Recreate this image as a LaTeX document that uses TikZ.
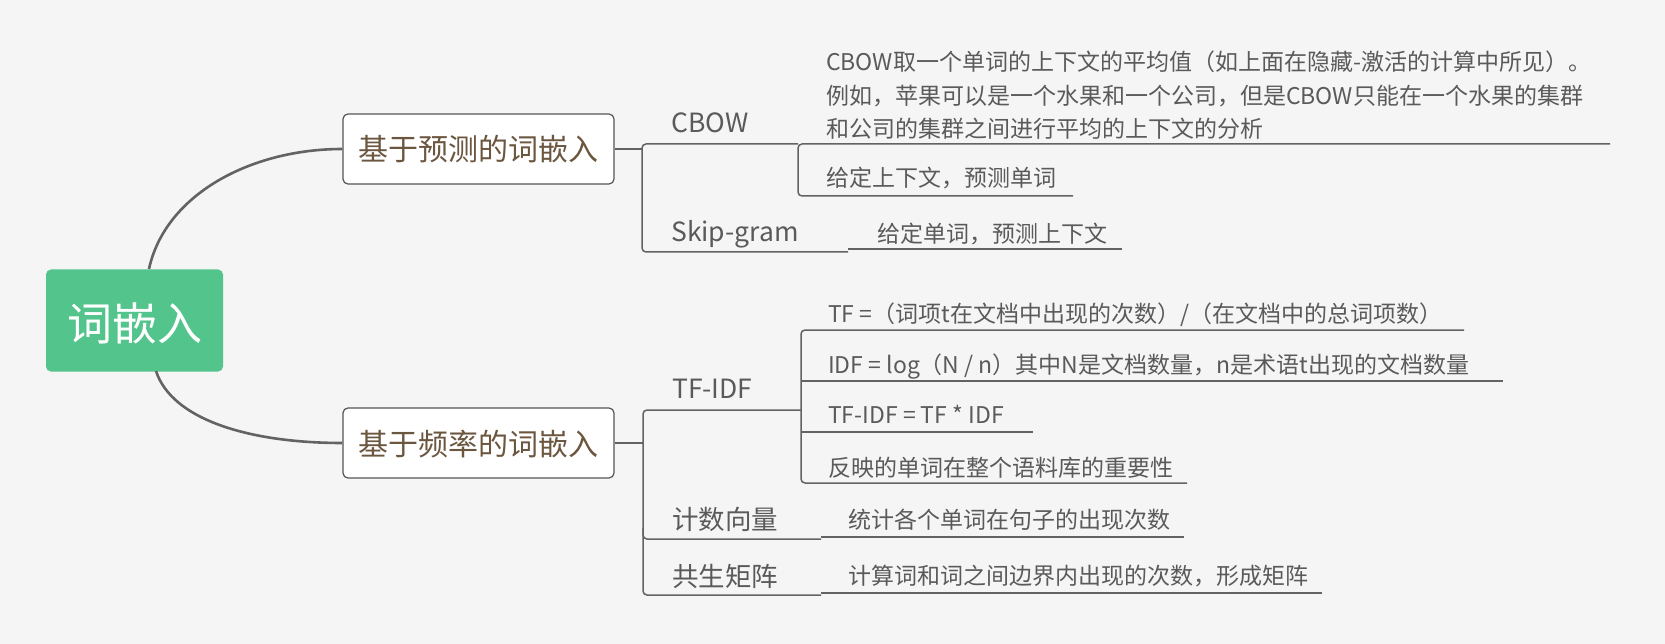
\documentclass[tikz,border=0pt]{standalone}
\usepackage{fontspec}
\setmainfont{Noto Sans CJK SC}
\definecolor{bg}{HTML}{F5F5F5}
\definecolor{rootgreen}{HTML}{52C48C}
\definecolor{boxtext}{HTML}{6B563F}
\definecolor{boxborder}{HTML}{555555}
\definecolor{linegrey}{HTML}{636363}
\definecolor{txtgrey}{HTML}{5A5A5A}
\tikzset{
  conn/.style={draw=linegrey, line width=1.5pt, rounded corners=4pt},
  curve/.style={draw=linegrey, line width=2.6pt},
  rootbox/.style={fill=rootgreen, rounded corners=5pt, minimum width=177pt, minimum height=102pt, inner sep=0},
  roottxt/.style={text=white, font=\fontsize{45}{54}\selectfont, inner sep=0, anchor=base},
  box/.style={draw=boxborder, fill=white, rounded corners=5pt, line width=1.2pt, minimum width=271pt, minimum height=70pt, inner sep=0},
  boxtxt/.style={text=boxtext, font=\fontsize{30}{36}\selectfont, inner sep=0, anchor=base},
  lvtwo/.style={text=txtgrey, font=\fontsize{26.5}{32}\selectfont, inner sep=0, anchor=base west},
  leaf/.style={text=txtgrey, font=\fontsize{23}{28}\selectfont, inner sep=0, anchor=base west}
}
\begin{document}
\begin{tikzpicture}[x=1pt,y=-1pt]
\fill[bg] (0,0) rectangle (1665,644);
\useasboundingbox (0,0) rectangle (1665,644);

% root
\node[rootbox] (root) at (134.5,320.5) {};
\node[roottxt] (roott) at (134.5,341) {词嵌入};

% level-1 boxes
\node[box] (pbox) at (478.5,149) {};
\node[boxtxt] (pboxt) at (478.5,161) {基于预测的词嵌入};
\node[box] (fbox) at (478.5,443) {};
\node[boxtxt] (fboxt) at (478.5,455) {基于频率的词嵌入};

% curves from root
\coordinate (rt) at (149,269);
\coordinate (rb) at (156,371);
\draw[curve] (rt) .. controls (165,195) and (250,149) .. (pbox.west);
\draw[curve] (rb) .. controls (172,420) and (250,443) .. (fbox.west);

% ---------- prediction branch ----------
\coordinate (pj) at (642,149);
\draw[conn] (pbox.east) -- (pj);
\draw[conn] (848,252) -- (642,252) -- (642,144) -- (798,144);
\draw[conn] (1610,144) -- (798,144) -- (798,196) -- (1073,196);
\draw[conn] (848,249) -- (1122,249);

\node[lvtwo] (cbow) at (671,133) {CBOW};
\node[lvtwo] (skip) at (671,242) {Skip-gram};

\node[leaf] (d1) at (826,71) {CBOW取一个单词的上下文的平均值（如上面在隐藏-激活的计算中所见）。};
\node[leaf] (d2) at (826,104.5) {例如，苹果可以是一个水果和一个公司，但是CBOW只能在一个水果的集群};
\node[leaf] (d3) at (826,138) {和公司的集群之间进行平均的上下文的分析};
\node[leaf] (c2) at (826,187) {给定上下文，预测单词};
\node[leaf] (s1) at (877,243) {给定单词，预测上下文};

% ---------- frequency branch ----------
\coordinate (fj) at (643,443);
\draw[conn] (fbox.east) -- (fj);
\draw[conn] (801,410) -- (643,410) -- (643,595) -- (821,595);
\draw[conn] (643,528) -- (643,539) -- (821,539);
\draw[conn] (1464,330) -- (801,330) -- (801,483) -- (1187,483);
\draw[conn] (801,381) -- (1503,381);
\draw[conn] (801,432) -- (1033,432);
\draw[conn] (821,537) -- (1184,537);
\draw[conn] (821,593) -- (1322,593);

\node[lvtwo] (tfidf) at (672,398) {TF-IDF};
\node[lvtwo] (cnt) at (672,529.5) {计数向量};
\node[lvtwo] (cooc) at (672,586) {共生矩阵};

\node[leaf] (t1) at (828,323) {TF =（词项t在文档中出现的次数）/（在文档中的总词项数）};
\node[leaf] (t2) at (828,373) {IDF = log（N / n）其中N是文档数量，n是术语t出现的文档数量};
\node[leaf] (t3) at (828,423) {TF-IDF = TF * IDF};
\node[leaf] (t4) at (828,476) {反映的单词在整个语料库的重要性};
\node[leaf] (cv) at (848,528) {统计各个单词在句子的出现次数};
\node[leaf] (cm) at (848,584) {计算词和词之间边界内出现的次数，形成矩阵};
\end{tikzpicture}
\end{document}
